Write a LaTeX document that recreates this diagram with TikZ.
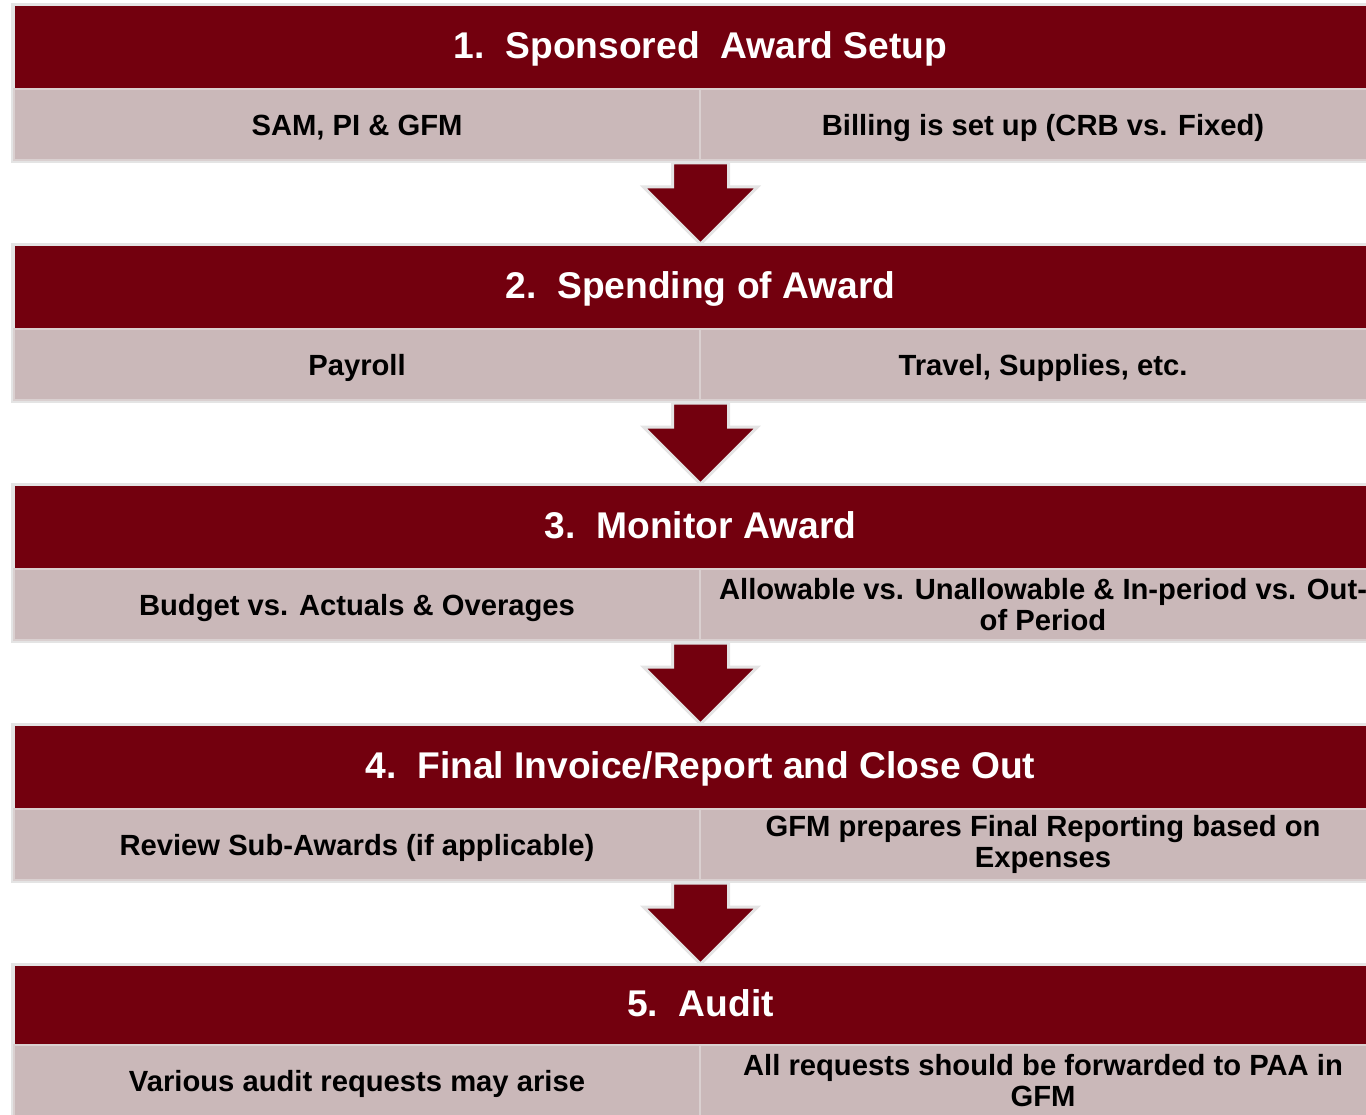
\documentclass[tikz,border=0pt]{standalone}
\usepackage{fontspec}
\setmainfont{Liberation Sans}
\usetikzlibrary{calc}
\definecolor{maroon}{RGB}{115,0,14}
\definecolor{rose}{RGB}{202,184,185}
\definecolor{framegray}{RGB}{228,228,228}
\definecolor{cellline}{RGB}{218,208,208}
\tikzset{
  framebox/.style={fill=framegray, draw=none, minimum width=1379, minimum height=160, anchor=north west, inner sep=0pt, outer sep=0pt},
  headbox/.style={fill=maroon, draw=none, minimum width=1371, minimum height=82, anchor=north west, inner sep=0pt, outer sep=0pt, text=white, text height=30pt, text depth=7.2pt, font=\bfseries\fontsize{37.2}{40}\selectfont},
  cellbox/.style={fill=rose, draw=cellline, line width=1.5pt, minimum width=686, minimum height=71, anchor=north west, inner sep=0pt, outer sep=0pt, align=center, font=\bfseries\fontsize{29.2}{31}\selectfont},
  onecell/.style={cellbox, text height=28pt, text depth=6pt},
  blockarrow/.style={fill=maroon, draw=framegray, line width=3pt, line join=miter},
}
\begin{document}
\begin{tikzpicture}[x=1pt,y=-1pt]
\useasboundingbox (0,0) rectangle (1366,1115);
\clip (0,0) rectangle (1366,1115);
% block 1
\node[framebox] (f1) at (11,3) {};
\node[headbox] (h1) at (15,6) {1.\ \ Sponsored\ \ Award Setup};
\node[onecell] (l1) at (14,89) {SAM, PI \& GFM};
\node[onecell] (r1) at (700,89) {Billing is set up (CRB vs. Fixed)};
% block 2
\node[framebox] (f2) at (11,243) {};
\node[headbox] (h2) at (15,246) {2.\ \ Spending of Award};
\node[onecell] (l2) at (14,329) {Payroll};
\node[onecell] (r2) at (700,329) {Travel, Supplies, etc.};
% block 3
\node[framebox] (f3) at (11,483) {};
\node[headbox] (h3) at (15,486) {3.\ \ Monitor Award};
\node[onecell] (l3) at (14,569) {Budget vs. Actuals \& Overages};
\node[cellbox] (r3) at (700,569) {Allowable vs. Unallowable \& In-period vs. Out-\\of Period};
% block 4
\node[framebox] (f4) at (11,723) {};
\node[headbox] (h4) at (15,726) {4.\ \ Final Invoice/Report and Close Out};
\node[onecell] (l4) at (14,809) {Review Sub-Awards (if applicable)};
\node[cellbox] (r4) at (700,809) {GFM prepares Final Reporting based on\\Expenses};
% block 5
\node[framebox] (f5) at (11,963) {};
\node[headbox, minimum height=79] (h5) at (15,966) {5.\ \ Audit};
\node[onecell] (l5) at (14,1045) {Various audit requests may arise};
\node[cellbox] (r5) at (700,1045) {All requests should be forwarded to PAA in\\GFM};
% arrows
\foreach \a/\b in {f1/f2,f2/f3,f3/f4,f4/f5}{
  \draw[blockarrow] ($(\a.south)+(-28,0)$) -- ++(56,0) -- ++(0,24) -- ++(29,0)
    -- ($(\b.north)+(0,1)$) -- ++(-57,-57) -- ++(29,0) -- cycle;
}
\end{tikzpicture}
\end{document}
